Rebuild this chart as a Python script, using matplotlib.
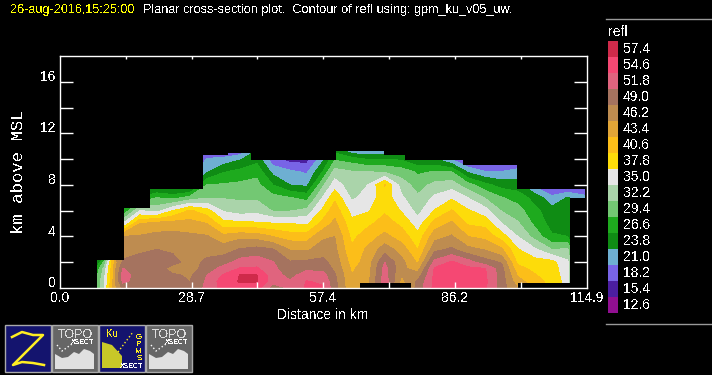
import numpy as np
import matplotlib
matplotlib.use("Agg")
import matplotlib.pyplot as plt
from matplotlib.patches import Rectangle, Polygon

plt.rcParams['font.family'] = ['Liberation Sans', 'DejaVu Sans']
plt.rcParams['text.antialiased'] = False

# reflectivity scale, top of the legend first
legend_values = [57.4, 54.6, 51.8, 49.0, 46.2, 43.4, 40.6, 37.8, 35.0, 32.2, 29.4, 26.6, 23.8, 21.0, 18.2, 15.4, 12.6]
legend_colors = ['#cf2a4a', '#f54873', '#e0647e', '#a5735f', '#be8c50', '#e1a537', '#fcbe19', '#fddc0a', '#e6e6e6',
                 '#aad4aa', '#73c873', '#1eaa1e', '#0f8c14', '#6eafd2', '#7864e6', '#4b1ea0', '#910f91']

# grid the contours are drawn from
heights = [0, 0.5, 1, 1.5, 2, 3, 4, 5, 6, 7, 8, 9, 10, 11]
distances = [8.1, 9.6, 10.9, 12.2, 13.7, 17.4, 21.1, 24.6, 28.3, 32.0, 35.5, 39.2, 42.9, 46.4, 50.1, 53.8, 57.3,
             59.9, 63.6, 67.1, 70.8, 74.5, 78.0, 81.7, 85.4, 88.9, 92.6, 96.3, 99.8, 103.5, 107.2, 110.7, 114.4]
# one row per distance, one value per height
refl = [
    [30, 30, 29, 28, 24, 20, 18, 16, 15, 14, 14, 13, 13, 13],
    [35, 34.5, 34, 33, 30, 22, 18, 16, 15, 14, 14, 13, 13, 13],
    [41, 40.5, 40, 39.5, 38.5, 30, 24, 20, 16, 14, 14, 13, 13, 13],
    [46, 46.5, 46.3, 46.2, 45.5, 47, 46, 35, 26.6, 22, 18, 15, 14, 13],
    [49.5, 52.5, 53, 52, 49.5, 47.5, 46.2, 35, 26.6, 22, 18, 15, 14, 13],
    [50, 50.5, 50.5, 50, 50, 48.5, 46.5, 43.4, 35, 27, 20, 16, 14, 13],
    [50.5, 50.8, 51, 50.8, 50.5, 49, 47, 44.5, 34, 29.4, 22, 18, 15, 13],
    [50.5, 50, 49.5, 47.5, 50, 48.5, 47.3, 44.6, 37.8, 28.5, 21, 19, 16, 14],
    [49.5, 49, 48.5, 48, 47.8, 47.5, 46.8, 44.5, 41, 30.5, 21, 19, 16, 14],
    [52.5, 52.2, 51.8, 50, 49.6, 48, 46.5, 43.4, 39, 32, 29.4, 23.5, 21.2, 17],
    [55.5, 56, 54.8, 53, 50.5, 47.7, 44.2, 39, 34.7, 32, 29.7, 26.4, 21.8, 16],
    [56, 57.6, 57.5, 54.8, 53, 49.2, 45.3, 38.5, 33.7, 31.8, 30, 27.5, 23.5, 16],
    [56, 57.5, 57.5, 55, 53.5, 49.9, 45, 38.3, 34, 31.8, 30.2, 28.7, 25.5, 23],
    [50, 53, 53, 52.5, 52, 49.2, 43.4, 38, 32, 30.4, 26.6, 23, 19, 16],
    [52.2, 52, 51, 50, 49.3, 46, 42, 37.8, 32, 29.6, 23.8, 21.7, 17, 14],
    [55, 54.8, 53, 51.3, 49.6, 45.7, 42, 37.3, 33, 28.4, 23.2, 20.6, 17, 15],
    [55, 54, 52.8, 50.9, 49.7, 47.7, 45.6, 41.6, 38.5, 35.3, 31.6, 26.8, 23, 20],
    [50, 49.8, 49.4, 48.4, 48, 46.9, 46.2, 44.2, 42.3, 40, 36.4, 33.4, 29, 24],
    [43.8, 43.6, 43.4, 43, 42.2, 41, 39.9, 38.7, 36.8, 34.5, 33.4, 32.5, 28, 18],
    [45.5, 45.5, 45, 44.8, 44.5, 44, 42, 40, 37.5, 36, 35, 32.3, 26.4, 19],
    [53.8, 53.5, 53, 52.8, 51.8, 47.7, 44.2, 41.8, 40.2, 39.5, 40.8, 32, 26.5, 19],
    [44.5, 45.3, 46.2, 46.8, 47, 44.9, 42, 40, 37.5, 35.5, 33.6, 30.9, 26.2, 18],
    [50, 49.5, 47.5, 45, 43, 40.5, 38.8, 36.3, 34, 32.7, 31, 29, 24, 20],
    [55.5, 55.5, 55.3, 55, 52.7, 48.2, 45.2, 41.8, 38, 35.6, 33, 29.6, 24, 20],
    [55.5, 55.6, 55.6, 55.5, 55, 49.5, 46.5, 44, 40.8, 37.4, 33.6, 29.5, 20.8, 16],
    [55.5, 55.5, 55.5, 55.2, 53.1, 47, 43.4, 40.3, 38.2, 35, 30.5, 23.5, 17, 14],
    [55.2, 55.3, 55.2, 54.8, 50.3, 46, 42.6, 39.7, 36.2, 32.1, 27.5, 21.3, 16, 13],
    [50.3, 50.4, 50.3, 50, 48.7, 43.8, 39.2, 35.1, 32, 29.6, 25.4, 21.2, 17, 14],
    [46.2, 44.5, 43.1, 41.5, 40, 38, 35, 32.6, 30.5, 28.3, 25, 22, 18, 14],
    [43, 41.8, 40.8, 39.9, 39, 35.4, 31.2, 28.8, 27.5, 25.5, 20, 17, 14, 13],
    [39.8, 39.6, 39.4, 39.2, 38.8, 32.2, 27, 25.5, 24.7, 22, 16, 14, 13, 12.7],
    [37, 36.6, 36.2, 35.8, 35.5, 32.5, 26.6, 25.6, 24.8, 24, 17, 14, 13, 12.7],
    [14, 14, 14, 14, 14, 14, 14, 14, 14, 21.5, 19, 13, 13, 12.7],
]

# outline of the sampled swath, steps in km
top_edges = [0, 8.1, 13.9, 19.6, 31.1, 36.6, 41.6, 60.1, 70.6, 75.2, 87.8, 99.6, 114.9]
top_heights = [0, 2.2, 6.2, 7.7, 10.3, 10.5, 9.95, 10.65, 10.3, 9.95, 9.55, 7.67, 7.67]
bottom_edges = [0, 8.1, 65.4, 76.5, 99.8, 111.1, 114.9]
bottom_heights = [0, 0, 0.36, 0, 0.36, 6.97, 6.97]

x_ticks = [0.0, 28.7, 57.4, 86.2, 114.9]
x_minor = [14.35, 43.05, 71.75, 100.55]
y_labels = [0, 4, 8, 12, 16]
y_ticks = [2, 4, 6, 8, 10, 12, 14, 16]

fig = plt.figure(figsize=(7.12, 3.75), dpi=100, facecolor='black')
ax = fig.add_axes([60 / 712, 87 / 375, 527 / 712, 232 / 375], facecolor='black')

# filled contours
levels = legend_values[::-1] + [100]
grid = np.array(refl).T
ax.contourf(distances, heights, grid, levels=levels, colors=legend_colors[::-1], antialiased=False, zorder=1)

# black out everything outside the swath
ax.fill_between(top_edges + [115], top_heights + [top_heights[-1]], 18, step='post', color='black', lw=0, zorder=2)
ax.fill_between(bottom_edges + [115], 0, bottom_heights + [bottom_heights[-1]], step='post', color='black', lw=0, zorder=2)

ax.set_xlim(0, 114.9)
ax.set_ylim(0, 18)
ax.set_axisbelow(False)  # ticks have to stay above the black mask
for s in ax.spines.values():
    s.set_color('white')
    s.set_linewidth(1.0)
    s.set_zorder(5)

ax.set_xticks(x_ticks[1:-1] + x_minor)
ax.set_yticks(y_ticks)
ax.tick_params(axis='both', which='major', direction='in', color='white', width=1, top=True, right=True,
               labelbottom=False, labelleft=False)
ax.tick_params(axis='x', length=4.5)
ax.tick_params(axis='y', length=9.5)
for t in ax.xaxis.get_major_ticks():
    t.tick2line.set_markersize(2.5)

# tick labels go on by hand, only some of the ticks carry one
for v in x_ticks:
    ax.annotate(f"{v:.1f}", (v, 0), xytext=(0, -2), textcoords='offset points', ha='center', va='top',
                color='white', fontsize=10, annotation_clip=False)
for v in y_labels:
    ax.annotate(str(v), (0, v), xytext=(-3, 3.5), textcoords='offset points', ha='right', va='center',
                color='white', fontsize=10, annotation_clip=False)

# overlay in pixel coordinates for titles, legend and icons
ov = fig.add_axes([0, 0, 1, 1], facecolor='none')
ov.set_xlim(0, 712)
ov.set_ylim(375, 0)
ov.axis('off')

ov.text(10, 10, "26-aug-2016,15:25:00", color='#ffff00', fontsize=9.1, va='center')
ov.text(143, 10, "Planar cross-section plot.  Contour of refl using: gpm_ku_v05_uw.", color='white', fontsize=9.1, va='center')
ov.text(323, 315, "Distance in km", color='white', fontsize=10, ha='center', va='center')
ov.text(19, 172, "km above MSL", color='white', fontsize=12.5, rotation=90, ha='center', va='center', family='Liberation Mono')

# legend
ov.plot([606, 712], [19, 19], color='#999999', lw=1)
ov.plot([606, 712], [324, 324], color='#999999', lw=1)
ov.text(608, 32, "refl", color='white', fontsize=10, va='center')
for i, (v, c) in enumerate(zip(legend_values, legend_colors)):
    ov.add_patch(Rectangle((608, 41 + 16 * i), 10, 16, facecolor=c, lw=0))
    ov.text(623, 49 + 16 * i, f"{v:.1f}", color='white', fontsize=10, va='center')


def draw_topo(x0):
    ov.add_patch(Rectangle((x0, 325), 45.5, 47, facecolor='#666666', edgecolor='#aaaaaa', lw=1))
    ov.text(x0 + 23, 335, "TOPO", color='#dddddd', fontsize=9, ha='center', va='center')
    ov.text(x0 + 31, 343, "XSECT", color='white', fontsize=5, ha='center', va='center', fontweight='bold')
    ov.add_patch(Polygon([(x0 + 3, 369), (x0 + 3, 354), (x0 + 10, 358), (x0 + 16, 357), (x0 + 22, 352), (x0 + 27, 354),
                          (x0 + 32, 349), (x0 + 38, 351), (x0 + 42, 354), (x0 + 42, 369)], facecolor='#e0e0e0', lw=0))
    ov.plot([x0 + 5, x0 + 10, x0 + 20], [345, 351, 344], color='white', lw=1, ls=':')


# buttons under the plot
ov.add_patch(Rectangle((5, 325), 45.5, 47, facecolor='#14146e', edgecolor='#aaaaaa', lw=1))
ov.plot([12, 22, 33, 43, 13, 22, 33, 44], [337, 332, 335, 335, 365, 362, 363, 365], color='#ffee22', lw=1.8)
draw_topo(52)
ov.add_patch(Rectangle((99, 325), 45.5, 47, facecolor='#14146e', edgecolor='#aaaaaa', lw=1))
ov.add_patch(Polygon([(102, 368), (102, 342), (112, 345), (122, 356), (122, 368)], facecolor='#c8c828', lw=0))
ov.plot([118, 133], [352, 332], color='#ffee22', lw=1, ls=':')
ov.text(112, 334, "Ku", color='#ffee22', fontsize=7, ha='center', va='center')
ov.text(139, 348, "G\nP\nM\nS", color='#ffee22', fontsize=6, ha='center', va='center', linespacing=0.95)
ov.text(132, 367, "XSECT", color='white', fontsize=5, ha='center', va='center', fontweight='bold')
draw_topo(146)

fig.savefig("out.png", dpi=100, facecolor='black')
